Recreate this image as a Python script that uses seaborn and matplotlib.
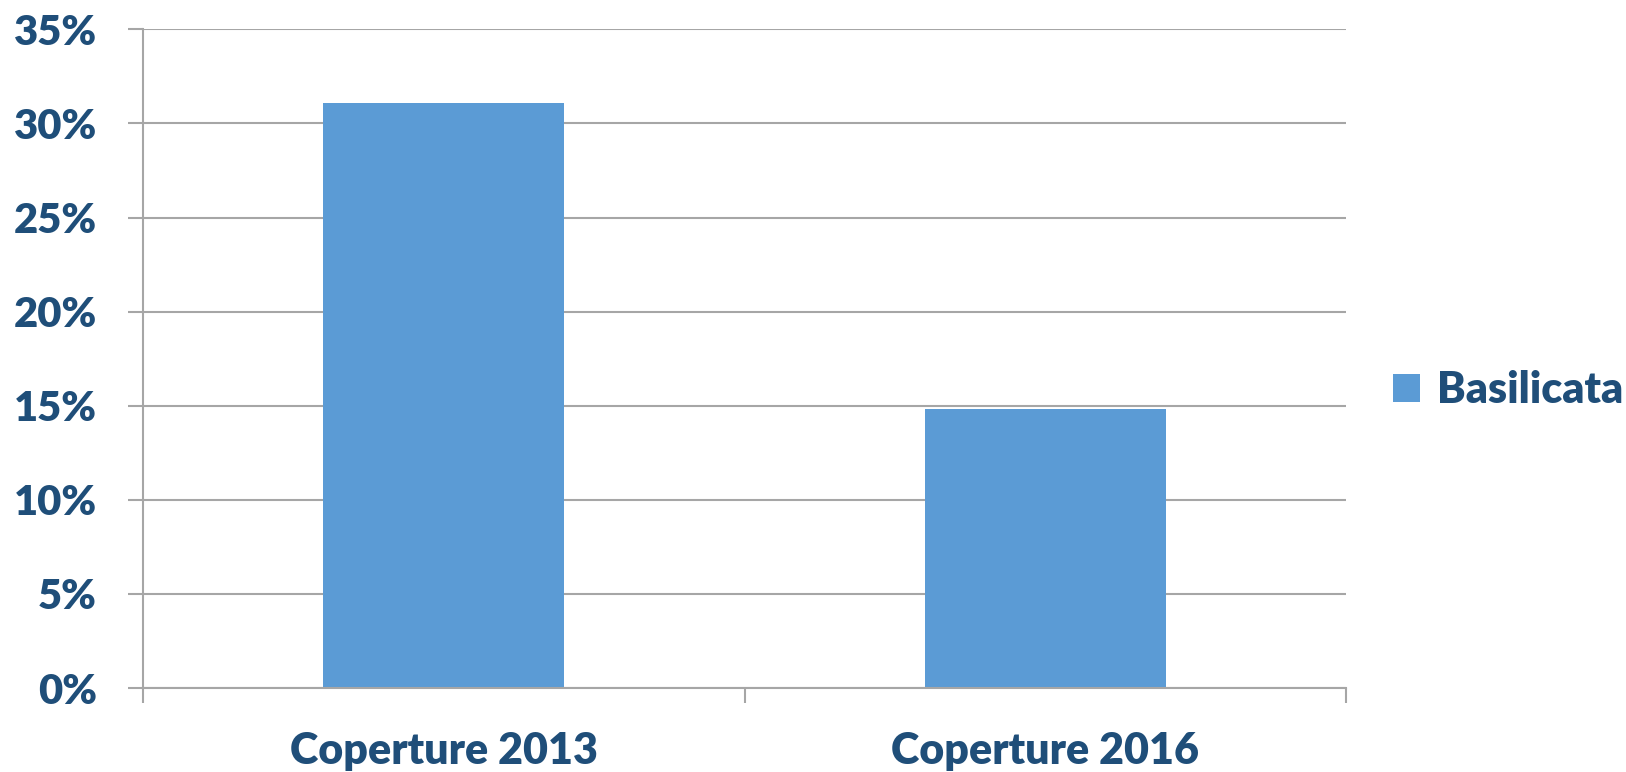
import matplotlib
matplotlib.use("Agg")
import matplotlib.pyplot as plt
import seaborn as sns
import pandas as pd
from matplotlib.ticker import FuncFormatter, FixedLocator

# Chart data
categories = ["Coperture 2013", "Coperture 2016"]
values = [31.1, 14.8]
series_name = "Basilicata"
y_ticks = [0, 5, 10, 15, 20, 25, 30, 35]

bar_color = "#5B9BD5"
text_color = "#1F4E79"
grid_color = "#A6A6A6"
weight = "heavy"

sns.set_theme(style="white")
plt.rcParams["font.family"] = ["Lato", "DejaVu Sans"]

df = pd.DataFrame({"categoria": categories, "valore": values, "serie": series_name})

fig = plt.figure(figsize=(16.26, 7.72), dpi=100)
ax = fig.add_axes([0.0878, 0.1088, 0.828 - 0.0878, 0.962 - 0.1088])

sns.barplot(data=df, x="categoria", y="valore", hue="serie",
            palette=[bar_color], saturation=1, width=0.4, dodge=False,
            ax=ax, edgecolor="none", legend=True)

ax.set_xlim(-0.5, len(categories) - 0.5)
ax.set_ylim(0, 35)
ax.yaxis.set_major_locator(FixedLocator(y_ticks))
ax.yaxis.set_major_formatter(FuncFormatter(lambda v, p: f"{v:.0f}%"))
ax.yaxis.grid(True, color=grid_color, linewidth=1.5)
ax.set_axisbelow(True)
ax.set_xlabel("")
ax.set_ylabel("")

for s in ["top", "right"]:
    ax.spines[s].set_visible(False)
for s in ["left", "bottom"]:
    ax.spines[s].set_color(grid_color)
    ax.spines[s].set_linewidth(1.5)

# Category labels centered, tick marks at category boundaries
ax.xaxis.set_minor_locator(FixedLocator([-0.5, 0.5, 1.5]))
ax.tick_params(axis="x", which="major", length=0, pad=31,
               labelsize=31, labelcolor=text_color)
ax.tick_params(axis="x", which="minor", length=11, width=1.5,
               color=grid_color, direction="out", bottom=True)
ax.tick_params(axis="y", which="major", length=11, width=1.5,
               color=grid_color, direction="out", left=True, pad=22,
               labelsize=30, labelcolor=text_color)
for lbl in ax.get_xticklabels() + ax.get_yticklabels():
    lbl.set_fontweight(weight)

leg = ax.legend(loc="center left", bbox_to_anchor=(0.857, 0.495),
                bbox_transform=fig.transFigure, frameon=False,
                fontsize=31, handlelength=0.62, handleheight=0.62,
                handletextpad=0.4, borderpad=0, borderaxespad=0)
for t in leg.get_texts():
    t.set_color(text_color)
    t.set_fontweight(weight)

fig.savefig("out.png", dpi=100, facecolor="white")
